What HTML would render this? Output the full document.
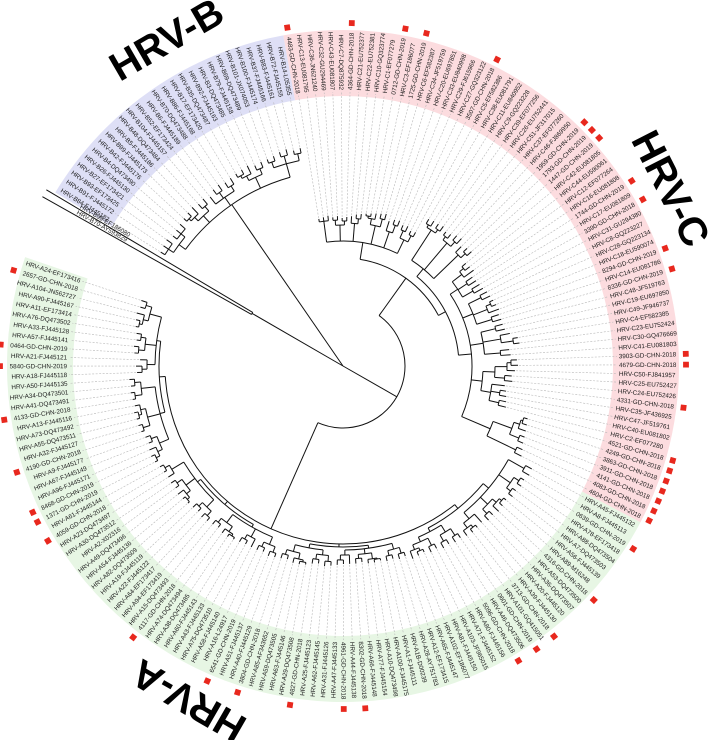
<!DOCTYPE html>
<html><head><meta charset="utf-8"><style>
html,body{margin:0;padding:0;background:#fff;}
svg{display:block;}
</style></head><body>
<svg id="chart" width="708" height="740" viewBox="0 0 708 740" xmlns="http://www.w3.org/2000/svg" font-family="Liberation Sans, sans-serif">
<g id="bands"></g>
<g id="branches"></g>
<g id="leaders"></g>
<g id="labels"></g>
<g id="marks"></g>
<text transform="translate(168,42) rotate(-30)" text-anchor="middle" dominant-baseline="middle" font-size="40" font-weight="bold" fill="#000">HRV-B</text>
<text transform="translate(668,190) rotate(63)" text-anchor="middle" dominant-baseline="middle" font-size="40" font-weight="bold" fill="#000">HRV-C</text>
<text transform="translate(190,698) rotate(210)" text-anchor="middle" dominant-baseline="middle" font-size="40" font-weight="bold" fill="#000">HRV-A</text>
</svg>
<script>
const leavesA = ["HRV-A24-EF173416","2657-GD-CHN-2018","HRV-A104-JN562727","HRV-A90-FJ445167","HRV-A11-EF173414","HRV-A76-DQ473502","HRV-A33-FJ445128","HRV-A57-FJ445141","0464-GD-CHN-2019","HRV-A21-FJ445121","5840-GD-CHN-2019","HRV-A18-FJ445118","HRV-A50-FJ445135","HRV-A34-DQ473501","HRV-A41-DQ473491","4133-GD-CHN-2018","HRV-A13-FJ445116","HRV-A73-DQ473492","HRV-A55-DQ473511","HRV-A32-FJ445127","4190-GD-CHN-2018","HRV-A9-FJ445177","HRV-A67-FJ445149","HRV-A96-FJ445171","8468-GD-CHN-2019","1371-GD-CHN-2019","HRV-A61-FJ445144","4059-GD-CHN-2018","HRV-A23-DQ473497","HRV-A30-DQ473512","HRV-A2-X02316","HRV-A49-DQ473496","HRV-A54-FJ445136","HRV-A82-DQ473509","HRV-A19-FJ445119","HRV-A22-FJ445122","HRV-A64-EF173417","HRV-A94-EF173419","HRV-A15-DQ473493","4117-GD-CHN-2018","HRV-A74-DQ473494","HRV-A38-DQ473485","HRV-A60-FJ445143","HRV-A43-FJ445133","HRV-A75-DQ473510","HRV-A58-FJ445140","HRV-A16-L24917","6541-GD-CHN-2019","HRV-A51-FJ445137","HRV-A40-FJ445129","3804-GD-CHN-2018","HRV-A85-AF343652","HRV-A59-DQ473505","HRV-A63-FJ445146","HRV-A29-DQ473508","4827-GD-CHN-2018","HRV-A25-FJ445123","HRV-A62-FJ445145","HRV-A31-FJ445126","HRV-A47-FJ445133","4961-GD-CHN-2018","HRV-A44-FJ445138","8302-GD-CHN-2018","HRV-A66-FJ445148","HRV-A77-FJ445154","HRV-A10-DQ473498","HRV-A100-FJ445175","HRV-A1-FJ445111","HRV-A1B-D00239","HRV-A28-AY751783","HRV-A12-EF173415","HRV-A65-FJ445147","HRV-A102-EF186077","HRV-A81-FJ445150","HRV-A103-JF965015","HRV-A71-FJ445152","HRV-A80-FJ445156","5096-GD-CHN-2018","HRV-A46-DQ473506","0601-GD-CHN-2019","HRV-A101-GQ415051","3713-GD-CHN-2018","HRV-A39-FJ445130","HRV-A20-FJ445120","HRV-A36-DQ473507","HRV-A53-DQ473500","4316-GD-CHN-2018","HRV-A89-M16248","HRV-A56-FJ445139","HRV-A7-DQ473503","HRV-A88-DQ473504","HRV-A78-EF173418","0639-GD-CHN-2019","HRV-A8-FJ445113","HRV-A45-FJ445132"];
const leavesC = ["4604-GD-CHN-2018","4083-GD-CHN-2018","4141-GD-CHN-2018","3911-GD-CHN-2018","3863-GD-CHN-2018","4249-GD-CHN-2018","4521-GD-CHN-2018","HRV-C2-EF077280","HRV-C40-EU081802","HRV-C47-JF519761","HRV-C35-JF436925","4331-GD-CHN-2018","HRV-C24-EU752426","HRV-C25-EU752427","HRV-C50-FJ841957","4679-GD-CHN-2018","3903-GD-CHN-2018","HRV-C41-EU081803","HRV-C30-GQ476669","HRV-C23-EU752424","HRV-C4-EF582385","HRV-C49-JF946737","HRV-C19-EU697850","HRV-C48-JF519763","8336-GD-CHN-2019","HRV-C14-EU081786","8294-GD-CHN-2019","HRV-C18-EU590074","HRV-C28-GQ223134","HRV-C8-GQ223227","HRV-C31-GU294380","3390-GD-CHN-2018","HRV-C17-EU081809","1744-GD-CHN-2019","HRV-C16-EU081808","HRV-C12-EF077264","HRV-C44-EU590061","HRV-C42-EU081805","1447-GD-CHN-2019","1793-GD-CHN-2019","1959-GD-CHN-2019","HRV-C46-FJ869950","HRV-C37-EF077260","HRV-C51-JF317015","HRV-C26-EU752441","HRV-C39-EF077256","HRV-C9-GQ223228","HRV-C11-EU840952","HRV-C38-EU081791","HRV-C5-EF582386","3507-GD-CHN-2018","HRV-C27-GQ323122","HRV-C29-FJ615966","HRV-C33-EU840998","HRV-C20-EU697851","HRV-C34-JF519759","HRV-C6-EF582387","1725-GD-CHN-2019","HRV-C3-EF186077","0712-GD-CHN-2019","HRV-C1-EF077279","HRV-C10-GQ323774","HRV-C22-EU752381","HRV-C21-EU752377","4364-GD-CHN-2018","HRV-C7-DQ875932","HRV-C43-EU081807","HRV-C32-GU294469","HRV-C36-JN621240","HRV-C13-EU081795","4483-GD-CHN-2018"];
const leavesB = ["HRV-B14-L05355","HRV-B72-FJ445155","HRV-B83-FJ445161","HRV-B37-FJ445166","HRV-B100-FJ445174","HRV-B101-JX074053","HRV-B69-DQ473489","HRV-B79-FJ445158","HRV-B3-DQ473485","HRV-B92-FJ445163","HRV-B35-DQ473487","HRV-B17-EF173420","HRV-B86-FJ445168","HRV-B70-DQ473488","HRV-B6-FJ445189","HRV-B52-EF173424","HRV-B104-FJ445157","HRV-B48-DQ473484","HRV-B5-FJ445186","HRV-B99-FJ445173","HRV-B42-FJ445176","HRV-B4-DQ473490","HRV-B26-FJ445130","HRV-B27-EF173421","HRV-B93-EF173425","HRV-B91-FJ445172","HRV-B84-FJ445182"];
const leavesOut = ["HRV-B99-EF186080","HRV-B70-AY593829"];

const treeA = "(((((*212,*211)206,(*213,(*212,*211)208)205)200,((*209,*208)204,(*210,*209)205)199,(*203,(*207,*206)201)196)188,(((*214,*213)209,(*214,*213)210)203,((*212,(*214,*213)210)207,(*213,*212)209)202,((*210,*209)205,(*211,(*212,*211)208)204)199)189)184,((((*209,*208)205,*207)200,((*208,*207)203,(*209,(*208,*207)205)202)197,((*206,*205)201,(*207,*206)202)196)186,(((*205,*204)200,(*206,(*206,*205)203)201)195,((*204,*203)199,*203)194,((*203,*202)198,(*204,*203)199)193)185)182,((((*202,*201)197,(*203,(*203,*202)200)198)192,((*200,*199)195,(*201,*200)196)190)185,(((*199,*198)194,*198)189,((*198,*197)193,(*199,(*199,*198)196)195)189,((*200,*199)195,(*201,*200)196)190)184)181,((((*205,(*204,*203)200)197,(*206,*205)200)192,((*208,*207)202,(*209,*208)203)195)187,(((*210,(*211,*210)207)204,*209)198,((*212,*211)206,(*213,(*212,*211)208)205)200,((*214,*213)209,(*215,*214)210)204,(*216,*215)208)190)183)178";
const treeClow = "(((*200,*198)192,((*196,*195)190,(*194,(*193,*192)188)186)180)160,(((*168,*167)160,(*166,*165)159,*163)150,((*170,*169)162,(*172,(*175,*174)168)164)152)140,((*168,*167)158,((*178,*177)172,*170)160,(*166,*165)157)142,((*165,*164)156,(*166,(*165,*164)160)155,(*163,*162)154)140,((*160,*159)150,(*158,*157)149,(*162,(*161,*160)155)150)138)129";
const treeCmid = "(((*172,*171)166,*168)160,((*174,*173)167,(*170,*169)165)161,((*172,*171)166,(*171,*170)165)162)126";
const treeCtop = "(((*152,*151)147,(*154,*153)148)140,((*156,*155)150,*152)142,((*158,*157)152,(*156,(*155,*154)152)150)144,((*153,*152)148,*150)143,((*149,*148)145,(*150,*149)146)141,(*151,*150,*149)146)125";
const treeB = "(((*222,*221)217,(*224,*223)218,(*221,*220)216)210,((*220,*219)214,(*222,(*221,*220)216)213)208,((*219,*218)212,(*220,*219)213,*215)206,((*218,*217)211,(*219,(*218,*217)213)210)205,((*216,*215,*214)209,(*217,*216,*215)210)204)196";
const treeOut = "(*345,*345)105";

const startAngle = 198, endAngleB = -148;
const cx = 343, cy = 366;
const labelR = 276, bandR0 = 270, bandR1 = 336, markR = 343;

const allLeaves = leavesA.concat(leavesC, leavesB, leavesOut);
const nMain = leavesA.length + leavesC.length + leavesB.length;
const step = (startAngle - endAngleB) / (nMain - 1);
function leafAngle(i){ return startAngle - i*step; }

const newick = "((" + treeA + ",((" + treeClow + "," + treeCmid + ")116," + treeCtop + ")108)62," + treeB + "," + treeOut + ")0";

function parse(s){
  let i=0, li=0;
  function num(){ let j=i; while(i<s.length && /[0-9.]/.test(s[i])) i++; return parseFloat(s.slice(j,i)); }
  function node(){
    if(s[i]==='('){ i++; const ch=[];
      while(true){ ch.push(node()); if(s[i]===','){i++;continue;} if(s[i]===')'){i++;break;} }
      return {ch:ch, r:num()};
    } else { i++; return {leaf:li++, r:num()}; }
  }
  return node();
}
const root = parse(newick);
const NS="http://www.w3.org/2000/svg";
function mk(tag, attrs, parent){ const e=document.createElementNS(NS,tag); for(const k in attrs) e.setAttribute(k,attrs[k]); parent.appendChild(e); return e; }
function pt(a,r){ const t=a*Math.PI/180; return [cx+r*Math.cos(t), cy+r*Math.sin(t)]; }

function layout(n){
  if(n.ch){ n.ch.forEach(layout); n.a=(n.ch[0].a+n.ch[n.ch.length-1].a)/2; }
  else n.a = n.leaf < nMain ? leafAngle(n.leaf) : leafAngle(nMain-1) - 1.3*(n.leaf-nMain+1);
}
layout(root);

const gBr=document.getElementById('branches');
function draw(n){
  if(!n.ch) return;
  const as=n.ch.map(c=>c.a); const a1=Math.min(...as), a2=Math.max(...as);
  if(n.r>0 && a2>a1){
    const p1=pt(a1,n.r), p2=pt(a2,n.r);
    const arc=mk('path',{d:`M${p1[0]},${p1[1]} A${n.r},${n.r} 0 ${(a2-a1)>180?1:0} 1 ${p2[0]},${p2[1]}`,fill:'none',stroke:'#111','stroke-width':1},gBr);
    
    
  }
  n.ch.forEach(c=>{
    const p=pt(c.a,n.r), q=pt(c.a,c.r);
    const ln=mk('line',{x1:p[0],y1:p[1],x2:q[0],y2:q[1],stroke:'#111','stroke-width':1},gBr);
    
    
    draw(c);
  });
}
draw(root);

const gBand=document.getElementById('bands');
function band(i0,i1,color,name){
  const a1=leafAngle(i1)-step/2, a2=leafAngle(i0)+step/2;
  const o1=pt(a1,bandR1), o2=pt(a2,bandR1), n2=pt(a2,bandR0), n1=pt(a1,bandR0);
  const lg=(a2-a1)>180?1:0;
  const p=mk('path',{d:`M${o1[0]},${o1[1]} A${bandR1},${bandR1} 0 ${lg} 1 ${o2[0]},${o2[1]} L${n2[0]},${n2[1]} A${bandR0},${bandR0} 0 ${lg} 0 ${n1[0]},${n1[1]} Z`,fill:color},gBand);
  
  
}
const nA=leavesA.length, nC=leavesC.length, nB=leavesB.length;
band(0,nA-1,'#e7f6e4','band-hrv-a');
band(nA,nA+nC-1,'#fcdcdf','band-hrv-c');
band(nA+nC,nA+nC+nB-1,'#dedff6','band-hrv-b');

const gLead=document.getElementById('leaders'), gLab=document.getElementById('labels'), gMark=document.getElementById('marks');
const leafNodes=[]; (function col(n){ if(n.ch) n.ch.forEach(col); else leafNodes.push(n); })(root);
leafNodes.forEach(n=>{
  const name=allLeaves[n.leaf]; const a=n.a;
  const isOut = n.leaf>=nMain;
  if(!isOut && n.r<bandR0){
    const p=pt(a,n.r+1), q=pt(a,bandR0+4);
    const d=mk('line',{x1:p[0],y1:p[1],x2:q[0],y2:q[1],stroke:'#b8b8b8','stroke-width':0.6,'stroke-dasharray':'2,1.5'},gLead);
    
    
  }
  const left=Math.cos(a*Math.PI/180)<0;
  const r0 = isOut ? 250 : labelR;
  const t=mk('text',{'font-size':6.3,fill:'#1a1a1a'},gLab);
  if(left){ t.setAttribute('transform',`translate(${cx},${cy}) rotate(${a+180})`); t.setAttribute('x',-r0); t.setAttribute('text-anchor','end'); }
  else { t.setAttribute('transform',`translate(${cx},${cy}) rotate(${a})`); t.setAttribute('x',r0); }
  t.setAttribute('dy', isOut ? '-1.5' : '2.2');
  t.textContent=name;
  
  
  if(name.indexOf('GD-CHN')>=0){
    const m=pt(a,markR);
    const s=mk('rect',{x:-2.9,y:-2.9,width:5.8,height:5.8,fill:'#e8281e',transform:`translate(${m[0]},${m[1]}) rotate(${a})`},gMark);
    
    
  }
});
</script>
</body></html>
